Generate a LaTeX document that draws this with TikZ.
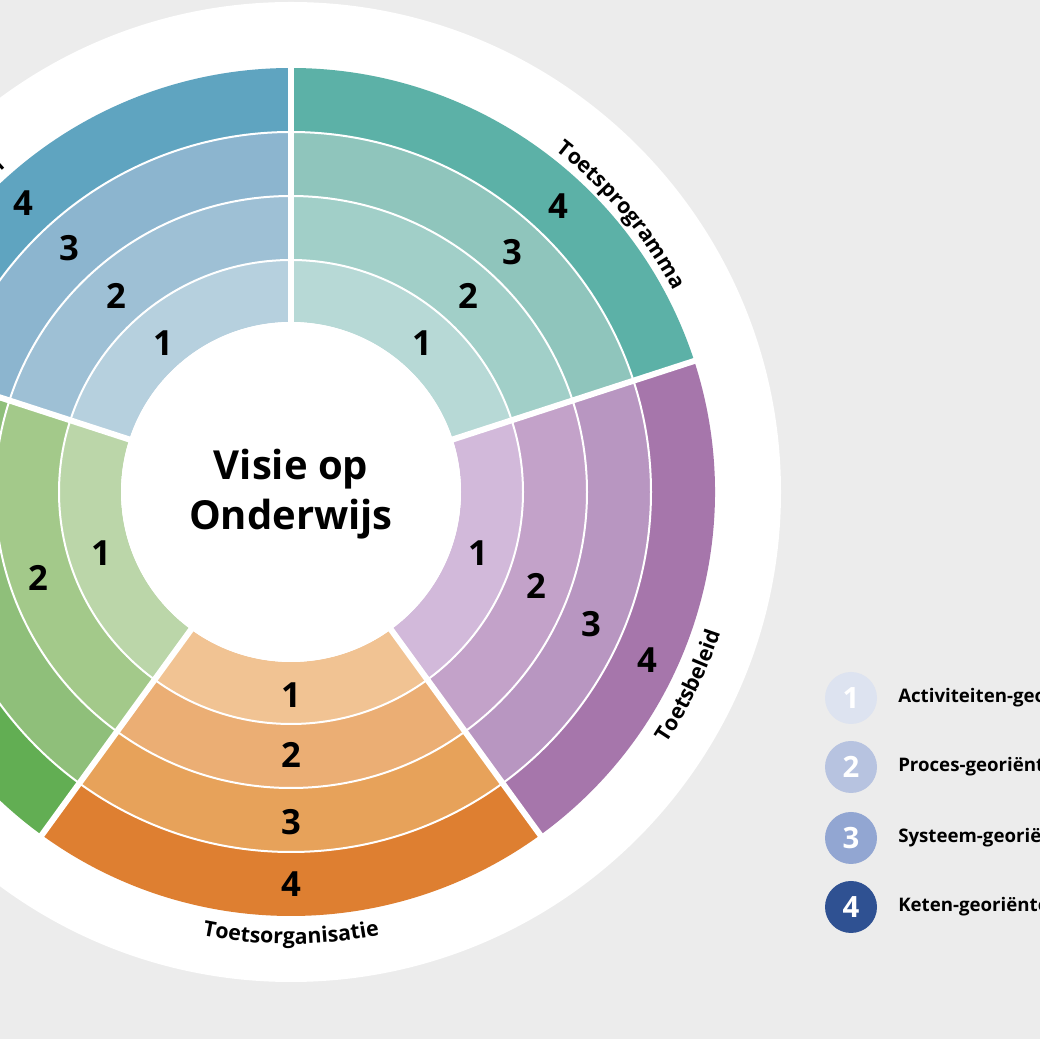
\documentclass[tikz,border=0pt]{standalone}
\usepackage{fontspec}
\setmainfont{Open Sans}
\setsansfont{Open Sans}
\usetikzlibrary{decorations.text}
\definecolor{bg}{HTML}{ECECEC}
\definecolor{t1}{HTML}{B7D9D6}\definecolor{t2}{HTML}{A1CFC8}\definecolor{t3}{HTML}{8FC5BC}\definecolor{t4}{HTML}{5CB1A7}
\definecolor{b1}{HTML}{B6D0DE}\definecolor{b2}{HTML}{9EC0D5}\definecolor{b3}{HTML}{8CB5CF}\definecolor{b4}{HTML}{5FA4C0}
\definecolor{g1}{HTML}{BBD6A9}\definecolor{g2}{HTML}{A3C98A}\definecolor{g3}{HTML}{8FBF7A}\definecolor{g4}{HTML}{62AE53}
\definecolor{o1}{HTML}{F1C393}\definecolor{o2}{HTML}{EBAE74}\definecolor{o3}{HTML}{E7A25A}\definecolor{o4}{HTML}{DE7F31}
\definecolor{p1}{HTML}{D2B9DA}\definecolor{p2}{HTML}{C3A2C9}\definecolor{p3}{HTML}{B896C1}\definecolor{p4}{HTML}{A676AB}
\definecolor{l1}{HTML}{DDE3F0}\definecolor{l2}{HTML}{B7C3E0}\definecolor{l3}{HTML}{92A6D2}\definecolor{l4}{HTML}{2F5192}
\newcommand\annwedge[5]{\fill[#5] (#1:#3*0.75pt) arc[start angle=#1,end angle=#2,radius=#3*0.75pt] -- (#2:#4*0.75pt) arc[start angle=#2,end angle=#1,radius=#4*0.75pt] -- cycle;}
\newcommand\sector[6]{\annwedge{#1}{#2}{170}{232}{#3}\annwedge{#1}{#2}{232}{296}{#4}\annwedge{#1}{#2}{296}{360}{#5}\annwedge{#1}{#2}{360}{424}{#6}}
\tikzset{num/.style={font=\fontsize{26}{26}\selectfont\bfseries,text=black,inner sep=0pt},
 leg/.style={circle,minimum size=39pt,inner sep=0pt,text=white,font=\fontsize{22}{22}\selectfont\bfseries},
 legtext/.style={anchor=west,inner sep=0pt,font=\fontsize{14}{14}\selectfont\bfseries},
 arclabel/.style={decorate,decoration={text along path,text align=center,text={|\fontsize{16}{16}\selectfont\bfseries|#1}}}}
\begin{document}
\begin{tikzpicture}[x=0.75pt,y=0.75pt]
\useasboundingbox (0,0) rectangle (1040,1039);
\clip (0,0) rectangle (1040,1039);
\fill[bg] (0,0) rectangle (1040,1039);
\begin{scope}[shift={(291,547)}]
\fill[white] (0,0) circle[radius=490*0.75pt];
\sector{18}{90}{t1}{t2}{t3}{t4}
\sector{90}{162}{b1}{b2}{b3}{b4}
\sector{162}{234}{g1}{g2}{g3}{g4}
\sector{234}{306}{o1}{o2}{o3}{o4}
\sector{306}{378}{p1}{p2}{p3}{p4}
\foreach \r in {232,296,360} \draw[white,line width=1.5pt] (0,0) circle[radius=\r*0.75pt];
\foreach \a in {18,90,162,234,306} \draw[white,line width=4.5pt] (\a:160*0.75pt) -- (\a:430*0.75pt);
\fill[white] (0,0) circle[radius=170*0.75pt];
\path[arclabel=Toetsprogramma] (60:432*0.75pt) arc[start angle=60,end angle=20,radius=432*0.75pt];
\path[arclabel=Toetsbeleid] (-43:452*0.75pt) arc[start angle=-43,end angle=-9,radius=452*0.75pt];
\path[arclabel=Toetsorganisatie] (-112:452*0.75pt) arc[start angle=-112,end angle=-68,radius=452*0.75pt];
\path[arclabel=Toets(ta(a)k)en] (162:432*0.75pt) arc[start angle=162,end angle=122,radius=432*0.75pt];
\end{scope}
\node[font=\fontsize{30}{30}\selectfont\bfseries,align=center,inner sep=0pt] (visie) at (291,545) {Visie op\\[8pt]Onderwijs};
\foreach \n/\d/\x/\y in {t1/1/422/343,t2/2/468/296,t3/3/512/252,t4/4/558/206,b1/1/163/343,b2/2/116/296,b3/3/69/248,b4/4/23/203,p1/1/478/553,p2/2/536/586,p3/3/591/624,p4/4/647/660,o1/1/291/695,o2/2/291/755,o3/3/291/822,o4/4/291/884,g1/1/101/553,g2/2/38/578}
  \node[num] (n\n) at (\x,1039-\y) {\d};
\foreach \d/\y/\t in {1/698/Activiteiten-georiënteerd,2/767/Proces-georiënteerd,3/838/Systeem-georiënteerd,4/907/Keten-georiënteerd}{
  \node[leg,fill=l\d] (leg\d) at (851,1039-\y) {\d};
  \node[legtext] (legt\d) at (898,1039-\y) {\t};}
\end{tikzpicture}
\end{document}
